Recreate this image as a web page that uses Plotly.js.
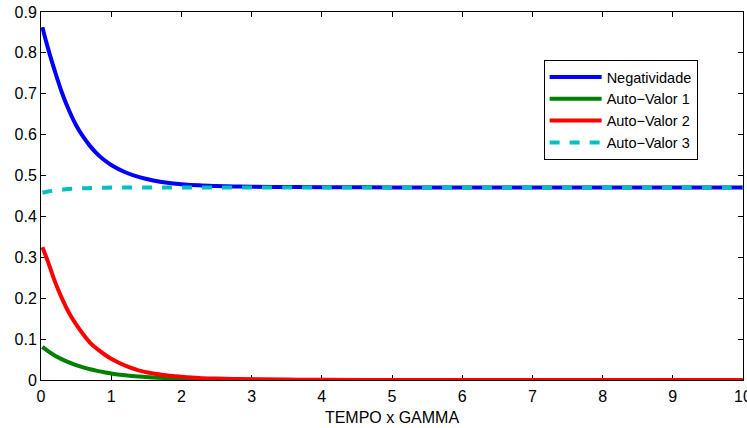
<!DOCTYPE html>
<html>
<head>
<meta charset="utf-8">
<script src="https://cdn.plot.ly/plotly-3.0.1.min.js"></script>
<style>
  html, body { margin: 0; padding: 0; background: #fff; }
  #chart { width: 747px; height: 428px; }
</style>
</head>
<body>
<div id="chart"></div>
<script>
// Time axis (TEMPO x GAMMA) sample points
const tempo = [0.02, 0.1, 0.2, 0.3, 0.4, 0.5, 0.6, 0.7, 0.8, 0.9, 1.0, 1.2, 1.4, 1.6, 1.8, 2.0, 2.25, 2.5, 2.75, 3, 3.5, 4, 5, 6, 7, 8, 9, 10];

// Series values at those times
const negatividade = [0.863, 0.811, 0.754, 0.702, 0.659, 0.623, 0.595, 0.572, 0.553, 0.538, 0.526, 0.508, 0.496, 0.488, 0.4825, 0.479, 0.476, 0.4745, 0.4735, 0.4728, 0.472, 0.4715, 0.471, 0.471, 0.471, 0.471, 0.471, 0.471];
const autoValor1   = [0.081, 0.0705, 0.0595, 0.0505, 0.043, 0.0365, 0.031, 0.0263, 0.0223, 0.019, 0.016, 0.0116, 0.0084, 0.0061, 0.0044, 0.0032, 0.0022, 0.0015, 0.001, 0.0007, 0.0003, 0, 0, 0, 0, 0, 0, 0];
const autoValor2   = [0.325, 0.289, 0.240, 0.199, 0.164, 0.136, 0.112, 0.091, 0.076, 0.063, 0.052, 0.035, 0.023, 0.016, 0.011, 0.008, 0.005, 0.0035, 0.0025, 0.0018, 0.001, 0.0006, 0, 0, 0, 0, 0, 0];
const autoValor3   = [0.458, 0.461, 0.4635, 0.4655, 0.467, 0.468, 0.4688, 0.4694, 0.4699, 0.4702, 0.4705, 0.4708, 0.471, 0.471, 0.471, 0.471, 0.471, 0.471, 0.471, 0.471, 0.471, 0.471, 0.471, 0.471, 0.471, 0.471, 0.471, 0.471];

const seriesNames = ['Negatividade', 'Auto\u2212Valor 1', 'Auto\u2212Valor 2', 'Auto\u2212Valor 3'];

const xTicks = [0, 1, 2, 3, 4, 5, 6, 7, 8, 9, 10];
const yTicks = [0, 0.1, 0.2, 0.3, 0.4, 0.5, 0.6, 0.7, 0.8, 0.9];

const FONT = '"Liberation Sans", Arial, Helvetica, sans-serif';

function curve(name, y, color, dash) {
  return {
    x: tempo, y: y, name: name, type: 'scatter', mode: 'lines',
    line: { color: color, width: 4, dash: dash || 'solid', shape: 'spline', smoothing: 1 },
    hoverinfo: 'skip'
  };
}

const data = [
  curve(seriesNames[0], negatividade, '#0000ff'),
  curve(seriesNames[1], autoValor1, '#008000'),
  curve(seriesNames[2], autoValor2, '#ff0000'),
  curve(seriesNames[3], autoValor3, '#00bfbf', '10px,10px')
];

const axisCommon = {
  showgrid: false, zeroline: false,
  showline: true, linecolor: '#000', linewidth: 1, mirror: 'ticks',
  ticks: 'inside', ticklen: 5, tickcolor: '#000', tickwidth: 1,
  tickfont: { family: FONT, size: 16, color: '#000' },
  ticklabeloverflow: 'allow',
  layer: 'below traces'
};

const layout = {
  width: 747, height: 428,
  margin: { l: 41, r: 4, t: 12, b: 48 },
  paper_bgcolor: '#fff', plot_bgcolor: '#fff',
  font: { family: FONT, size: 16, color: '#000' },
  showlegend: true,
  legend: {
    x: 0.716, y: 0.8696, xanchor: 'left', yanchor: 'top',
    bgcolor: '#fff', bordercolor: '#000', borderwidth: 1,
    font: { family: FONT, size: 14.5, color: '#000' },
    itemwidth: 52, tracegroupgap: 0,
    entrywidthmode: 'pixels', entrywidth: 103
  },
  xaxis: Object.assign({}, axisCommon, {
    range: [0, 10], tickvals: xTicks, ticktext: xTicks.map(String),
    ticklabelstandoff: 2,
    title: { text: 'TEMPO x GAMMA', font: { family: FONT, size: 16, color: '#000' }, standoff: 7 }
  }),
  yaxis: Object.assign({}, axisCommon, {
    range: [0, 0.9], tickvals: yTicks, ticktext: yTicks.map(String)
  })
};

Plotly.newPlot('chart', data, layout, { staticPlot: true, displayModeBar: false });
</script>
</body>
</html>
